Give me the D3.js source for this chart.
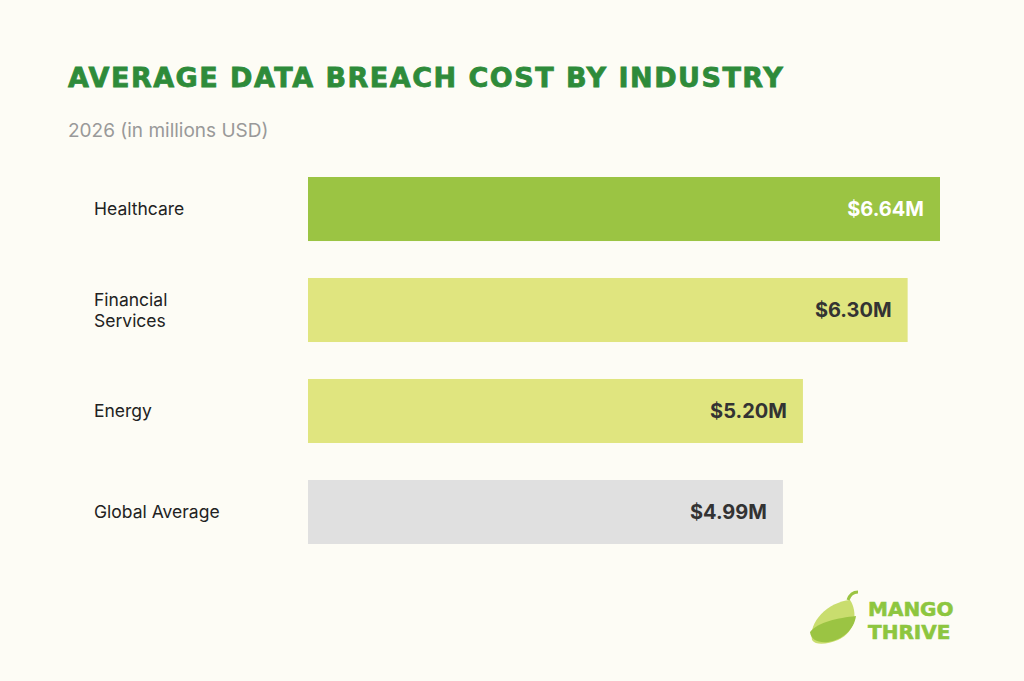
<!DOCTYPE html>
<html><head><meta charset="utf-8">
<script src="https://cdn.jsdelivr.net/npm/d3@7"></script>
<style>body{margin:0;background:#fdfcf5;}svg{display:block;}</style>
</head><body><svg id="chart" width="1024" height="681"></svg>
<script>
const industries = ["Healthcare", "Financial\nServices", "Energy", "Global Average"];
const costs = [6.64, 6.30, 5.20, 4.99];
const costLabels = ["$6.64M", "$6.30M", "$5.20M", "$4.99M"];
const barColors = ["#9bc443", "#e0e57f", "#e0e57f", "#e0e0e0"];
const textColors = ["#ffffff", "#333333", "#333333", "#333333"];

const svg = d3.select("#chart");
svg.append("rect").attr("width", 1024).attr("height", 681).attr("fill", "#fdfcf5");

svg.append("text").attr("x", 68).attr("y", 87)
    .attr("font-family", "DejaVu Sans").attr("font-weight", "bold").attr("font-size", 27)
    .attr("letter-spacing", 1.5).attr("fill", "#2e8b3a").attr("stroke", "#2e8b3a").attr("stroke-width", 0.8)
    .text("AVERAGE DATA BREACH COST BY INDUSTRY");
svg.append("text").attr("x", 68).attr("y", 137)
    .attr("font-family", "Inter, sans-serif").attr("font-size", 19).attr("fill", "#999999")
    .text("2026 (in millions USD)");

const x = d3.scaleLinear().domain([0, 6.64]).range([308, 940]);
const y = d3.scaleBand().domain(d3.range(industries.length)).range([177, 544]).paddingInner(0.366).paddingOuter(0);

const rows = svg.selectAll("g.row").data(industries).enter().append("g").attr("class", "row");
rows.append("rect")
    .attr("x", x(0)).attr("y", (d, i) => y(i))
    .attr("width", (d, i) => x(costs[i]) - x(0)).attr("height", y.bandwidth())
    .attr("fill", (d, i) => barColors[i]);
rows.append("text")
    .attr("x", (d, i) => x(costs[i]) - 16).attr("y", (d, i) => y(i) + y.bandwidth() / 2 + 7)
    .attr("text-anchor", "end").attr("font-family", "Inter, sans-serif").attr("font-weight", "bold")
    .attr("font-size", 20).attr("fill", (d, i) => textColors[i])
    .text((d, i) => costLabels[i]);
rows.each(function (d, i) {
    const lines = d.split("\n");
    const t = d3.select(this).append("text").attr("font-family", "Inter, sans-serif")
        .attr("font-size", 17.5).attr("fill", "#222");
    const cy = y(i) + y.bandwidth() / 2 + 6 - (lines.length - 1) * 10.5;
    lines.forEach((l, k) => t.append("tspan").attr("x", 94).attr("y", cy + k * 21).text(l));
});

// logo
const logo = svg.append("g").attr("transform", "translate(808,592)");
logo.append("path").attr("d", "M4,48 C0,30 20,10 42,8 C50,20 48,40 30,48 C20,52 8,54 4,48 Z").attr("fill", "#c9dd6e");
logo.append("path").attr("d", "M2,40 C10,30 30,26 48,24 C46,38 34,48 20,50 C10,51 3,48 2,40 Z").attr("fill", "#9bc443");
logo.append("path").attr("d", "M40,8 C42,2 46,0 50,0").attr("stroke", "#9bc443").attr("stroke-width", 3).attr("fill", "none");
logo.selectAll("text.logo").data(["MANGO", "THRIVE"]).enter().append("text")
    .attr("x", 60).attr("y", (d, i) => 24 + i * 23)
    .attr("font-family", "DejaVu Sans").attr("font-weight", "bold").attr("font-size", 20)
    .attr("fill", "#8dc63f").attr("stroke", "#8dc63f").attr("stroke-width", 0.6).text(d => d);
</script></body></html>
